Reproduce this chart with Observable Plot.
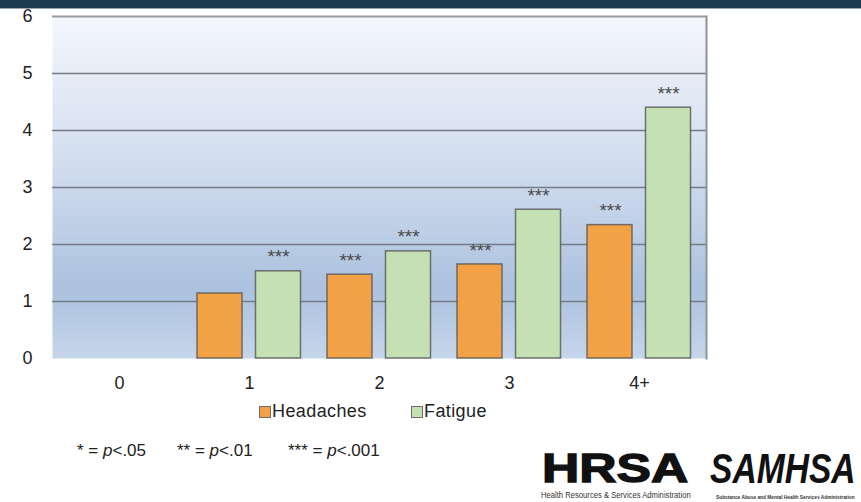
<!DOCTYPE html>
<html>
<head>
<meta charset="utf-8">
<script src="https://cdn.jsdelivr.net/npm/d3@7"></script>
<script src="https://cdn.jsdelivr.net/npm/@observablehq/plot@0.6"></script>
<style>
  body { margin: 0; width: 861px; height: 502px; position: relative; overflow: hidden; background: #fff;
         font-family: "Liberation Sans", Arial, sans-serif; color: #222; }
  #topbar { position: absolute; left: 0; top: 0; width: 861px; height: 8px; background: #1b3a4e; border-bottom: 1px solid #9aa6b0; }
  #chart { position: absolute; left: 0; top: 0; }
  #legend { position: absolute; left: 0; top: 401px; font-size: 18px; color: #222; }
  #legend .item { position: absolute; display: flex; align-items: center; white-space: nowrap; }
  #legend .sw { width: 12px; height: 12px; border: 1px solid #6b6b6b; margin-right: 1px; box-sizing: border-box; }
  #legend .name { letter-spacing: 0.4px; }
  #notes { position: absolute; left: 0; top: 441px; font-size: 17px; color: #222; }
  #notes span { position: absolute; white-space: nowrap; }
  .logo { position: absolute; white-space: nowrap; transform-origin: left top; color: #111; }
</style>
</head>
<body>
<div id="topbar"></div>
<div id="chart"></div>
<div id="legend"></div>
<div id="notes"></div>
<div class="logo" style="left:542px;top:448px;font-size:40px;line-height:40px;font-weight:bold;-webkit-text-stroke:1.3px #111;transform:scaleX(1.29);">HRSA</div>
<div class="logo" style="left:541px;top:491px;font-size:9px;line-height:9px;transform:scaleX(0.85);color:#333;">Health Resources &amp; Services Administration</div>
<div class="logo" style="left:710px;top:448px;font-size:42px;line-height:42px;font-weight:bold;font-style:italic;transform:scaleX(0.8);">SAMHSA</div>
<div class="logo" style="left:716px;top:494px;font-size:6px;line-height:6px;font-weight:bold;transform:scaleX(0.8);color:#333;">Substance Abuse and Mental Health Services Administration</div>
<script>
// Number of conditions (x categories)
const categories = ["0", "1", "2", "3", "4+"];
// Odds ratios per series; "0" is the reference group and has no bar
const headaches = [null, 1.14, 1.47, 1.65, 2.34];
const fatigue   = [null, 1.53, 1.88, 2.61, 4.40];
// Significance markers shown above each bar
const headachesSig = ["", "", "***", "***", "***"];
const fatigueSig   = ["", "***", "***", "***", "***"];
// Y axis ticks
const yTicks = [0, 1, 2, 3, 4, 5, 6];
const gridTicks = [1, 2, 3, 4, 5];
// Series names and colours
const seriesNames = ["Headaches", "Fatigue"];
const seriesColors = ["#f2a145", "#c5e0b3"];
// Footnote significance levels
const sigLevels = [["*", ".05"], ["**", ".01"], ["***", ".001"]];

const rows = categories.map((c, i) => ({
  category: c,
  headaches: headaches[i],
  fatigue: fatigue[i],
  hSig: headachesSig[i],
  fSig: fatigueSig[i]
}));
const hRows = rows.filter(d => d.headaches != null);
const fRows = rows.filter(d => d.fatigue != null);

const plot = Plot.plot({
  width: 861,
  height: 395,
  marginTop: 16,
  marginLeft: 52,
  marginRight: 155,
  marginBottom: 37,
  style: { fontSize: "18px", fontFamily: "'Liberation Sans', Arial, sans-serif", color: "#222", background: "transparent" },
  x: { domain: categories, padding: 0, label: null, tickSize: 0, tickPadding: 18 },
  y: { domain: [0, 6], ticks: yTicks, tickFormat: d => String(d), label: null, tickSize: 0, tickPadding: 20 },
  marks: [
    Plot.frame({ fill: "#c8d6ea", stroke: "none" }),
    Plot.ruleY(gridTicks, { stroke: "#737b84", strokeWidth: 1.5 }),
    Plot.ruleY([6], { stroke: "#9a9a9a", strokeWidth: 2 }),
    Plot.frame({ anchor: "right", stroke: "#8d9399", strokeWidth: 2 }),
    Plot.barY(hRows, { x: "category", y: "headaches", fill: seriesColors[0], stroke: "#555", strokeOpacity: 0.8, strokeWidth: 1.5, insetLeft: 13, insetRight: 72 }),
    Plot.barY(fRows, { x: "category", y: "fatigue", fill: seriesColors[1], stroke: "#555", strokeOpacity: 0.8, strokeWidth: 1.5, insetLeft: 71.5, insetRight: 13.5 }),
    Plot.text(hRows, { x: "category", y: "headaches", text: "hSig", dx: -29, dy: -14, fill: "#4a4a4a", fontSize: 19 }),
    Plot.text(fRows, { x: "category", y: "fatigue", text: "fSig", dx: 29, dy: -14, fill: "#4a4a4a", fontSize: 19 })
  ]
});

// Vertical gradient for the plot background
const svg = d3.select(plot);
const grad = svg.insert("defs", ":first-child").append("linearGradient")
  .attr("id", "bgGrad").attr("x1", 0).attr("y1", 0).attr("x2", 0).attr("y2", 1);
[[0, "#f4f7fc"], [0.45, "#d0dcee"], [0.8, "#abc1de"], [1, "#c6d6eb"]].forEach(([o, c]) =>
  grad.append("stop").attr("offset", o).attr("stop-color", c));
svg.selectAll("rect[fill='#c8d6ea']").attr("fill", "url(#bgGrad)");
svg.selectAll("[fill='#c8d6ea'] rect").attr("fill", "url(#bgGrad)");
svg.selectAll("g[fill='#c8d6ea']").attr("fill", "url(#bgGrad)");

document.getElementById("chart").appendChild(plot);

// Legend
const legend = d3.select("#legend");
const legendX = [259, 411];
seriesNames.forEach((name, i) => {
  const item = legend.append("div").attr("class", "item").style("left", legendX[i] + "px");
  item.append("div").attr("class", "sw").style("background", seriesColors[i]);
  item.append("span").attr("class", "name").text(name);
});

// Footnote
const notes = d3.select("#notes");
const noteX = [77, 177, 288];
sigLevels.forEach(([stars, p], i) => {
  notes.append("span").style("left", noteX[i] + "px")
    .html(`${stars} = <i>p</i>&lt;${p}`);
});
</script>
</body>
</html>
